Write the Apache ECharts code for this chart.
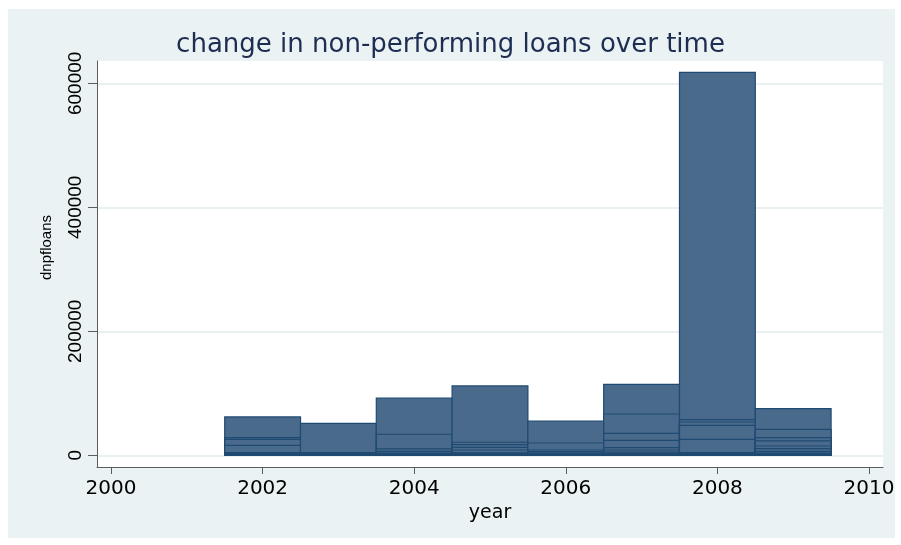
<!DOCTYPE html>
<html>
<head>
<meta charset="utf-8">
<script src="https://cdn.jsdelivr.net/npm/echarts@6/dist/echarts.min.js"></script>
<style>
  html, body { margin: 0; padding: 0; background: #ffffff; }
  #chart { width: 901px; height: 545px; }
</style>
</head>
<body>
<div id="chart"></div>
<script>
// Yearly change in non-performing loans; each year holds several observations,
// drawn as overlapping bars from zero.
const years = [2002, 2003, 2004, 2005, 2006, 2007, 2008, 2009];
const loans2002 = [61800, 28400, 25600, 16100, 4200, 3000, 2000, 1200, 500];
const loans2003 = [51600, 4200, 3000, 2000, 1200, 500];
const loans2004 = [92400, 33900, 10200, 6400, 3500, 2500, 1500, 600];
const loans2005 = [111800, 21000, 17100, 12900, 8500, 4000, 2800, 1800, 800];
const loans2006 = [55300, 19800, 8500, 5800, 3500, 2500, 1500, 600];
const loans2007 = [114500, 66600, 35500, 24200, 12300, 8500, 5300, 3500, 2500, 1500, 600];
const loans2008 = [617700, 57400, 53700, 48400, 25800, 4200, 3000, 2000, 1000, 400];
const loans2009 = [75200, 41900, 28400, 23100, 15000, 10600, 6400, 3500, 2500, 1500, 600];

const yearTicks = [2000, 2002, 2004, 2006, 2008, 2010];
const valueTicks = [0, 200000, 400000, 600000];

const titleText = 'change in non-performing loans over time';
const xName = 'year';
const yName = 'dnpfloans';

// Flatten into [year, value] pairs, largest first within a year so every
// smaller bar's outline stays visible on top of the larger ones.
const loansByYear = [loans2002, loans2003, loans2004, loans2005, loans2006, loans2007, loans2008, loans2009];
const barData = [];
years.forEach((yr, i) => {
  loansByYear[i].slice().sort((a, b) => b - a).forEach(v => barData.push([yr, v]));
});

const chart = echarts.init(document.getElementById('chart'), null, { renderer: 'canvas' });

function renderBar(params, api) {
  const yr = api.value(0);
  const v = api.value(1);
  const base = api.coord([yr - 0.5, 0]);
  const tip = api.coord([yr + 0.5, v]);
  return {
    type: 'rect',
    shape: { x: base[0], y: tip[1], width: tip[0] - base[0], height: base[1] - tip[1] },
    style: { fill: '#4a6a8b', stroke: '#1f4a71', lineWidth: 1.2 }
  };
}

const axisGray = '#5c5c5c';
const plain = v => String(v);

chart.setOption({
  backgroundColor: '#ffffff',
  animation: false,
  title: {
    text: titleText,
    left: 'center',
    top: 27,
    textStyle: { fontFamily: 'DejaVu Sans', fontSize: 26, fontWeight: 'normal', color: '#1e2d52' }
  },
  graphic: [
    {
      type: 'rect', z: -100, silent: true,
      shape: { x: 8, y: 9, width: 887, height: 529 },
      style: { fill: '#eaf2f3' }
    },
    {
      type: 'text', silent: true,
      x: 46.5, y: 247.5, rotation: Math.PI / 2,
      style: {
        text: yName, align: 'center', verticalAlign: 'middle',
        font: '15px "Liberation Sans", Arial, sans-serif', fill: '#000000'
      }
    }
  ],
  grid: {
    left: 97, top: 61, width: 786, height: 406,
    show: true, backgroundColor: '#ffffff', borderWidth: 0
  },
  xAxis: {
    type: 'value',
    min: 1999.815, max: 2010.185,
    name: xName, nameLocation: 'middle', nameGap: 33,
    nameTextStyle: { fontFamily: 'DejaVu Sans', fontSize: 19, color: '#000000' },
    axisLine: { show: true, onZero: false, lineStyle: { color: axisGray, width: 1 } },
    axisTick: { show: true, length: 7, customValues: yearTicks, lineStyle: { color: axisGray } },
    axisLabel: {
      customValues: yearTicks, formatter: plain, margin: 12,
      fontFamily: 'DejaVu Sans', fontSize: 20, color: '#000000'
    },
    splitLine: { show: false }
  },
  yAxis: {
    type: 'value',
    min: -18900, max: 636000,
    axisLine: { show: true, onZero: false, lineStyle: { color: axisGray, width: 1 } },
    axisTick: { show: true, length: 9, customValues: valueTicks, lineStyle: { color: axisGray } },
    axisLabel: {
      customValues: valueTicks, formatter: plain, rotate: 90, margin: 12,
      fontFamily: '"Liberation Sans", Arial, sans-serif', fontSize: 19, color: '#000000'
    },
    splitLine: { show: true, lineStyle: { color: '#e9f0f1', width: 2 } }
  },
  series: [{
    type: 'custom',
    renderItem: renderBar,
    encode: { x: 0, y: 1 },
    data: barData,
    z: 3
  }]
});
</script>
</body>
</html>
